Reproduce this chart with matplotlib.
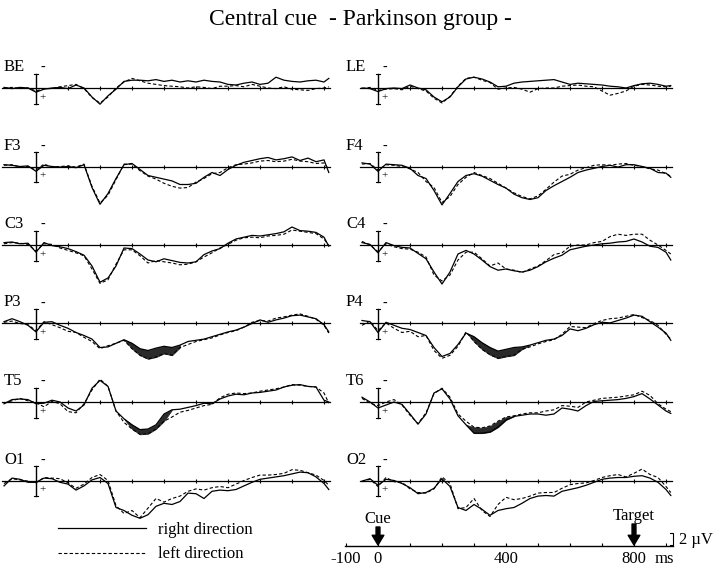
import numpy as np
import matplotlib
matplotlib.use("Agg")
import matplotlib.pyplot as plt

plt.rcParams["font.family"] = ["Liberation Serif", "DejaVu Serif"]

W, H = 720, 569

# time grids in ms (left column starts earlier than the right one)
t_left = np.r_[np.arange(-100, 901, 25), 915]
t_right = np.r_[np.arange(-50, 901, 25), 915]

# amplitudes in microvolts, negative plotted upward
# rd = right direction (solid), ld = left direction (dashed)
be_rd = [-0.1, 0.1, -0.1, 0.0, 0.7, 0.2, 0.0, -0.1, 0.1, -0.5,
         0.0, 1.5, 2.7, 1.3, 0.2, -1.1, -1.3, -1.3, -1.2, -1.4,
         -1.1, -1.3, -1.0, -1.2, -1.0, -1.3, -1.1, -1.0, -0.6, -0.5,
         -0.8, -1.0, -0.6, -0.8, -1.8, -1.3, -1.1, -1.0, -1.2, -1.3,
         -1.0, -1.6]
be_ld = [0.0, -0.1, 0.1, 0.0, 0.5, 0.1, 0.1, -0.2, -0.4, -0.6,
         0.1, 1.6, 2.5, 1.5, 0.0, -1.0, -1.6, -1.2, -0.8, -0.6,
         -0.4, -0.3, -0.2, 0.0, -0.2, -0.1, 0.1, -0.3, -0.3, -0.4,
         -0.2, -0.6, -0.3, 0.0, 0.1, -0.2, 0.2, 0.3, 0.4, 0.1,
         0.0, -0.2]
f3_rd = [-0.3, -0.2, 0.0, -0.1, 0.8, -0.2, 0.0, 0.1, 0.0, 0.2,
         -0.3, 3.5, 6.3, 4.5, 2.0, -0.3, -0.5, 0.5, 1.5, 1.8,
         2.1, 2.4, 3.0, 3.0, 2.8, 1.8, 1.0, 1.5, 0.5, -0.2,
         -0.7, -1.0, -1.3, -1.5, -1.1, -1.3, -1.6, -1.0, -1.4, -0.8,
         -1.1, 1.0]
f3_ld = [-0.2, -0.3, 0.1, 0.0, 0.6, -0.4, 0.1, 0.0, -0.1, 0.1,
         -0.4, 3.3, 6.1, 4.8, 2.2, -0.4, -0.4, 0.7, 1.6, 2.1,
         2.8, 3.3, 3.6, 3.5, 2.6, 2.0, 1.2, 1.0, 0.2, -0.3,
         -0.4, -0.6, -0.9, -1.0, -0.8, -0.9, -1.2, -0.9, -0.8, -0.5,
         -0.6, 0.5]
c3_rd = [-0.4, -0.5, -0.2, -0.3, 1.2, -0.4, 0.1, 0.3, 0.6, 1.1,
         1.7, 3.5, 6.2, 5.5, 3.5, 0.5, 0.6, 1.5, 2.5, 2.8,
         2.3, 2.6, 2.9, 3.0, 2.8, 1.6, 1.0, 0.6, -0.3, -1.0,
         -1.3, -1.6, -1.5, -1.7, -1.9, -2.2, -3.0, -2.4, -2.3, -2.1,
         -1.3, 0.2]
c3_ld = [-0.2, -0.4, -0.3, -0.1, 1.0, -0.2, -0.1, 0.5, 0.9, 1.3,
         1.8, 4.0, 6.4, 5.8, 3.2, 0.8, 0.8, 1.8, 3.0, 2.6,
         2.8, 3.0, 3.3, 3.2, 2.8, 2.0, 1.3, 0.5, -0.1, -0.8,
         -1.2, -1.3, -1.2, -1.5, -1.6, -1.8, -2.5, -2.3, -2.1, -1.9,
         -1.0, 0.1]
p3_rd = [-0.3, -0.8, -0.3, 0.3, 1.4, -0.2, -0.3, 0.3, 0.8, 1.5,
         2.0, 2.6, 4.0, 3.9, 3.3, 2.7, 3.3, 4.2, 4.5, 4.1,
         3.8, 4.0, 3.6, 3.0, 2.8, 2.6, 2.2, 1.8, 1.4, 1.1,
         0.6, 0.0, -0.6, -0.2, -0.6, -0.9, -1.3, -1.4, -1.1, -0.8,
         0.2, 1.4]
p3_ld = [-0.2, -0.4, 0.0, 0.2, 1.2, -0.3, 0.2, 0.7, 1.3, 1.5,
         2.3, 3.0, 4.2, 3.7, 3.3, 2.8, 4.2, 5.3, 5.9, 5.6,
         5.0, 5.3, 4.0, 3.5, 3.0, 2.7, 2.4, 1.9, 1.5, 1.2,
         0.6, -0.2, -0.5, -0.4, -0.9, -1.1, -1.4, -1.6, -1.2, -0.7,
         0.3, 1.6]
t5_rd = [0.3, -0.4, -0.5, -0.4, 0.3, 0.2, -0.3, 0.0, 1.0, 1.5,
         0.5, -2.3, -3.6, -2.6, 1.5, 2.8, 3.8, 4.6, 4.5, 3.8,
         2.0, 1.3, 1.2, 0.9, 0.6, 0.2, 0.3, -0.5, -1.0, -1.3,
         -1.2, -1.5, -1.6, -1.8, -2.0, -2.5, -2.8, -2.9, -2.6, -2.5,
         -0.3, 0.0]
t5_ld = [0.2, -0.2, -0.6, -0.2, 0.1, 0.8, -0.1, 0.3, 1.6, 1.8,
         0.3, -2.0, -3.8, -2.6, 1.5, 3.4, 4.5, 5.4, 5.3, 4.5,
         3.2, 2.5, 1.7, 1.4, 1.0, 0.6, 0.4, -0.7, -1.3, -1.5,
         -1.4, -1.5, -1.8, -2.0, -2.2, -2.5, -2.9, -2.8, -2.6, -2.5,
         -1.5, 0.2]
o1_rd = [0.9, -0.4, -0.2, 0.3, 0.3, -0.4, -0.3, 0.3, 0.6, 1.6,
         0.9, -0.1, -0.5, 0.5, 4.5, 5.0, 5.8, 6.3, 5.7, 4.3,
         3.8, 4.0, 3.5, 2.1, 2.2, 3.0, 1.8, 1.6, 1.7, 1.5,
         0.9, 0.3, -0.2, -0.4, -0.6, -0.8, -1.1, -1.4, -1.3, -0.6,
         0.5, 1.5]
o1_ld = [0.5, -0.3, -0.1, 0.1, 0.4, -0.5, -0.4, -0.3, 0.4, 1.3,
         0.6, -0.5, -1.0, 0.0, 4.2, 5.5, 5.0, 6.2, 4.6, 3.0,
         3.6, 3.0, 2.6, 1.8, 1.4, 1.6, 1.2, 1.0, 1.2, 0.6,
         0.0, -0.5, -0.9, -0.9, -1.0, -1.2, -1.8, -1.7, -1.3, -0.9,
         0.0, 0.8]

le_rd = [0.0, 0.1, 0.6, 0.1, 0.0, 0.1, -0.5, 0.0, 0.3, 1.5,
         2.3, 1.5, -0.2, -1.5, -1.8, -1.5, -1.0, -0.2, -0.3, -0.8,
         -1.0, -1.1, -1.2, -1.3, -1.4, -1.0, -0.6, -0.8, -0.7, -0.6,
         -0.5, -0.3, -0.2, 0.0, -0.4, -0.7, -0.8, -0.6, -0.3, -0.4]
le_ld = [0.1, -0.1, 0.4, 0.2, 0.1, 0.3, -0.3, 0.1, 0.5, 1.7,
         2.5, 1.4, -0.3, -1.6, -1.8, -1.3, -0.9, 0.2, 0.0, -0.1,
         0.2, 0.7, 0.1, 0.0, 0.0, -0.3, -0.4, -0.5, -0.3, -0.2,
         0.5, 1.2, 0.9, 0.5, -0.3, -0.6, -0.5, -0.3, -0.2, -0.3]
f4_rd = [-0.6, -0.4, 0.8, -0.4, -0.3, -0.2, 0.3, 1.5, 2.0, 4.0,
         6.4, 4.5, 2.5, 1.5, 1.2, 1.6, 2.3, 3.0, 3.6, 4.6,
         5.2, 5.5, 5.2, 4.0, 3.2, 2.5, 1.8, 1.0, 0.6, 0.3,
         0.0, -0.2, 0.1, -0.3, -0.3, 0.0, 0.3, 1.0, 1.1, 1.8]
f4_ld = [-0.4, -0.5, 0.6, -0.3, -0.2, 0.0, 0.4, 1.0, 2.5, 3.5,
         6.0, 5.0, 3.0, 1.8, 1.0, 1.5, 2.0, 2.8, 3.6, 4.4,
         5.0, 5.4, 4.9, 3.8, 2.6, 1.6, 1.3, 0.6, 0.2, -0.2,
         -0.3, -0.2, -0.4, -0.5, -0.2, 0.0, 0.4, 0.6, 1.2, 1.6]
c4_rd = [-0.4, -0.1, 1.3, -0.4, 0.1, 0.4, 0.5, 1.4, 2.3, 4.5,
         6.5, 4.5, 1.5, 0.9, 1.5, 2.5, 3.6, 4.2, 4.0, 4.3,
         4.5, 4.2, 3.6, 2.8, 2.2, 1.7, 0.8, 0.5, 0.2, 0.0,
         -0.2, -0.3, -0.5, -0.6, -1.0, -0.5, 0.2, 0.4, 1.2, 2.5]
c4_ld = [-0.6, 0.0, 1.1, -0.2, 0.3, 0.6, 0.7, 1.2, 2.0, 5.0,
         6.0, 5.0, 2.5, 1.2, 1.2, 2.3, 3.5, 3.0, 4.0, 4.2,
         4.6, 4.0, 3.5, 2.6, 1.6, 1.3, 0.2, 0.0, 0.0, -0.4,
         -0.6, -1.4, -1.8, -1.6, -1.8, -1.8, -0.8, 0.0, 0.9, 1.5]
p4_rd = [-0.5, -0.3, 1.5, -0.2, 0.3, 0.8, 1.0, 1.5, 2.0, 4.0,
         5.5, 5.0, 3.5, 1.6, 2.2, 3.2, 4.0, 4.6, 4.3, 4.0,
         3.9, 3.6, 3.2, 2.8, 2.6, 2.0, 0.9, 1.2, 0.8, 0.2,
         -0.2, -0.1, -0.5, -0.9, -1.4, -1.2, -0.3, 0.6, 1.6, 2.8]
p4_ld = [0.3, -0.4, 1.2, -0.1, 0.8, 1.5, 1.3, 2.2, 2.0, 4.5,
         5.8, 5.3, 3.8, 1.4, 3.0, 4.3, 5.2, 5.8, 5.5, 5.3,
         4.3, 3.9, 3.4, 3.0, 2.7, 1.8, 0.5, 0.6, 0.7, 0.0,
         -0.5, -0.8, -0.9, -1.2, -1.5, -1.0, -0.5, 0.3, 1.8, 2.6]
t6_rd = [-0.8, 0.0, 1.0, 0.5, 0.0, 0.4, 2.0, 3.7, 2.0, -1.5,
         -2.2, -0.5, 2.3, 3.8, 5.2, 5.2, 5.0, 4.2, 3.0, 2.4,
         2.2, 2.0, 2.0, 2.2, 2.0, 1.0, 1.2, 1.5, 0.6, -0.1,
         -0.2, -0.3, -0.4, -0.6, -0.9, -1.4, -0.5, 0.5, 1.5, 1.9]
t6_ld = [-0.6, 0.2, 0.6, 0.0, -0.4, 0.5, 2.2, 3.6, 1.8, -1.4,
         -2.3, -0.8, 2.0, 3.2, 4.2, 4.3, 4.0, 3.2, 2.5, 2.3,
         2.0, 1.8, 1.8, 1.5, 1.3, 0.6, 0.7, 0.9, 0.0, -0.3,
         -0.6, -0.7, -0.8, -1.0, -1.2, -1.8, -1.1, 0.3, 1.2, 1.6]
o2_rd = [0.1, -0.3, 0.8, -0.2, 0.0, 0.5, 1.2, 2.2, 2.0, 1.3,
         -0.3, 1.0, 4.5, 5.0, 4.0, 4.8, 5.8, 5.0, 4.7, 4.5,
         3.8, 3.0, 2.6, 2.5, 2.6, 1.8, 1.5, 1.2, 0.8, 0.3,
         -0.2, -0.4, -0.5, -0.5, -0.7, -0.8, -0.4, 0.3, 1.5, 2.5]
o2_ld = [0.2, -0.2, 1.0, -0.5, 0.2, 0.3, 1.4, 2.0, 2.1, 1.4,
         -0.6, 0.5, 4.7, 4.5, 3.0, 5.0, 6.0, 4.0, 2.8, 3.2,
         3.0, 2.6, 2.1, 2.0, 2.0, 1.3, 0.7, 0.5, 0.4, 0.0,
         -0.5, -0.8, -1.0, -0.6, -1.2, -1.9, -1.0, -0.5, 1.0, 2.0]

left_channels = ["BE", "F3", "C3", "P3", "T5", "O1"]
right_channels = ["LE", "F4", "C4", "P4", "T6", "O2"]
waves = {"BE": (be_rd, be_ld), "F3": (f3_rd, f3_ld), "C3": (c3_rd, c3_ld),
         "P3": (p3_rd, p3_ld), "T5": (t5_rd, t5_ld), "O1": (o1_rd, o1_ld),
         "LE": (le_rd, le_ld), "F4": (f4_rd, f4_ld), "C4": (c4_rd, c4_ld),
         "P4": (p4_rd, p4_ld), "T6": (t6_rd, t6_ld), "O2": (o2_rd, o2_ld)}
# intervals (ms) where the difference between directions is shaded
sig_windows = {"P3": (290, 450), "P4": (280, 450),
               "T5": (300, 400), "T6": (290, 410)}

bottom_ticks = np.arange(-100, 901, 100)
tick_labels = {-100: "-100", 0: "0", 400: "400", 800: "800"}

PX_PER_MS = 0.32
PX_PER_UV = 6.0
XLIM = (-110, 940)
ROW0, ROW_STEP = 88.0, 78.5
UP, DOWN = 30.0, 48.5  # pixels above / below baseline in each panel

fig = plt.figure(figsize=(W / 100, H / 100), dpi=100)
fig.text(360 / W, 1 - 20 / H, "Central cue  - Parkinson group -",
         fontsize=17, ha="center", va="center")

panel_w = (XLIM[1] - XLIM[0]) * PX_PER_MS
handles = None
for col, channels in enumerate([left_channels, right_channels]):
    zero_px = 36 if col == 0 else 378
    left_px = zero_px + XLIM[0] * PX_PER_MS
    t = t_left if col == 0 else t_right
    for row, ch in enumerate(channels):
        base = ROW0 + row * ROW_STEP
        ax = fig.add_axes([left_px / W, 1 - (base + DOWN) / H,
                           panel_w / W, (UP + DOWN) / H])
        ax.set_xlim(*XLIM)
        ax.set_ylim(DOWN / PX_PER_UV, -UP / PX_PER_UV)
        ax.axis("off")
        ax.patch.set_alpha(0)

        rd, ld = (np.array(v) for v in waves[ch])
        # baseline with 100 ms ticks
        ax.plot([t[0] - 5, 920], [0, 0], color="black", lw=0.9)
        ax.plot(np.arange(100, 901, 100), np.zeros(9), ls="none",
                marker="|", ms=3.5, mew=0.8, color="black")
        # vertical calibration bar at stimulus onset
        ax.plot([0, 0], [-2.4, 2.6], color="black", lw=1.0)
        ax.plot([-7, 7], [-2.4, -2.4], color="black", lw=0.8)
        ax.plot([-7, 7], [2.6, 2.6], color="black", lw=0.8)
        ax.text(22, -3.4, "-", fontsize=10, ha="center", va="center")
        ax.text(22, 1.6, "+", fontsize=8, ha="center", va="center")

        if ch in sig_windows:
            a, b = sig_windows[ch]
            ax.fill_between(t, rd, ld, where=(t >= a) & (t <= b),
                            color="#2a2a2a", lw=0.5, interpolate=True)
        l1, = ax.plot(t, rd, color="black", lw=0.9, label="right direction")
        l2, = ax.plot(t, ld, color="black", lw=0.8, dashes=(3, 2),
                      label="left direction")
        if handles is None:
            handles = [l1, l2]
        fig.text((zero_px - 32) / W, 1 - (base - 21) / H, ch,
                 fontsize=12, ha="left", va="center")

# time axis under the right column
axb = fig.add_axes([(378 + XLIM[0] * PX_PER_MS) / W, 0, panel_w / W, 64 / H])
axb.set_xlim(*XLIM)
axb.set_ylim(569, 505)
axb.axis("off")
axb.patch.set_alpha(0)
axb.plot([-103, 922], [546, 546], color="black", lw=1.0)
axb.vlines(bottom_ticks, 543, 546, color="black", lw=0.8)
for val, lab in tick_labels.items():
    axb.text(val, 559, lab, fontsize=12, ha="center", va="center")
axb.text(865, 559, "ms", fontsize=12, ha="left", va="center")
arrow = dict(arrowstyle="simple,head_length=0.5,head_width=0.6,tail_width=0.2",
             color="black", shrinkA=0, shrinkB=0, mutation_scale=14)
axb.annotate("", xy=(0, 545), xytext=(0, 527), arrowprops=arrow)
axb.annotate("", xy=(800, 545), xytext=(800, 524), arrowprops=arrow)
axb.text(0, 519, "Cue", fontsize=12, ha="center", va="center")
axb.text(800, 516, "Target", fontsize=12, ha="center", va="center")
# 2 uV scale bracket
axb.plot([913, 922, 922, 913], [533, 533, 545, 545], color="black", lw=0.8)
axb.text(940, 540, "2 \u00b5V", fontsize=12, ha="left", va="center")

fig.legend(handles=handles, loc="upper left",
           bbox_to_anchor=(58 / W, 1 - 522 / H), frameon=False,
           fontsize=12, handlelength=5.3, handletextpad=0.7,
           labelspacing=0.5, borderpad=0, borderaxespad=0)

fig.savefig("out.png", dpi=100)
